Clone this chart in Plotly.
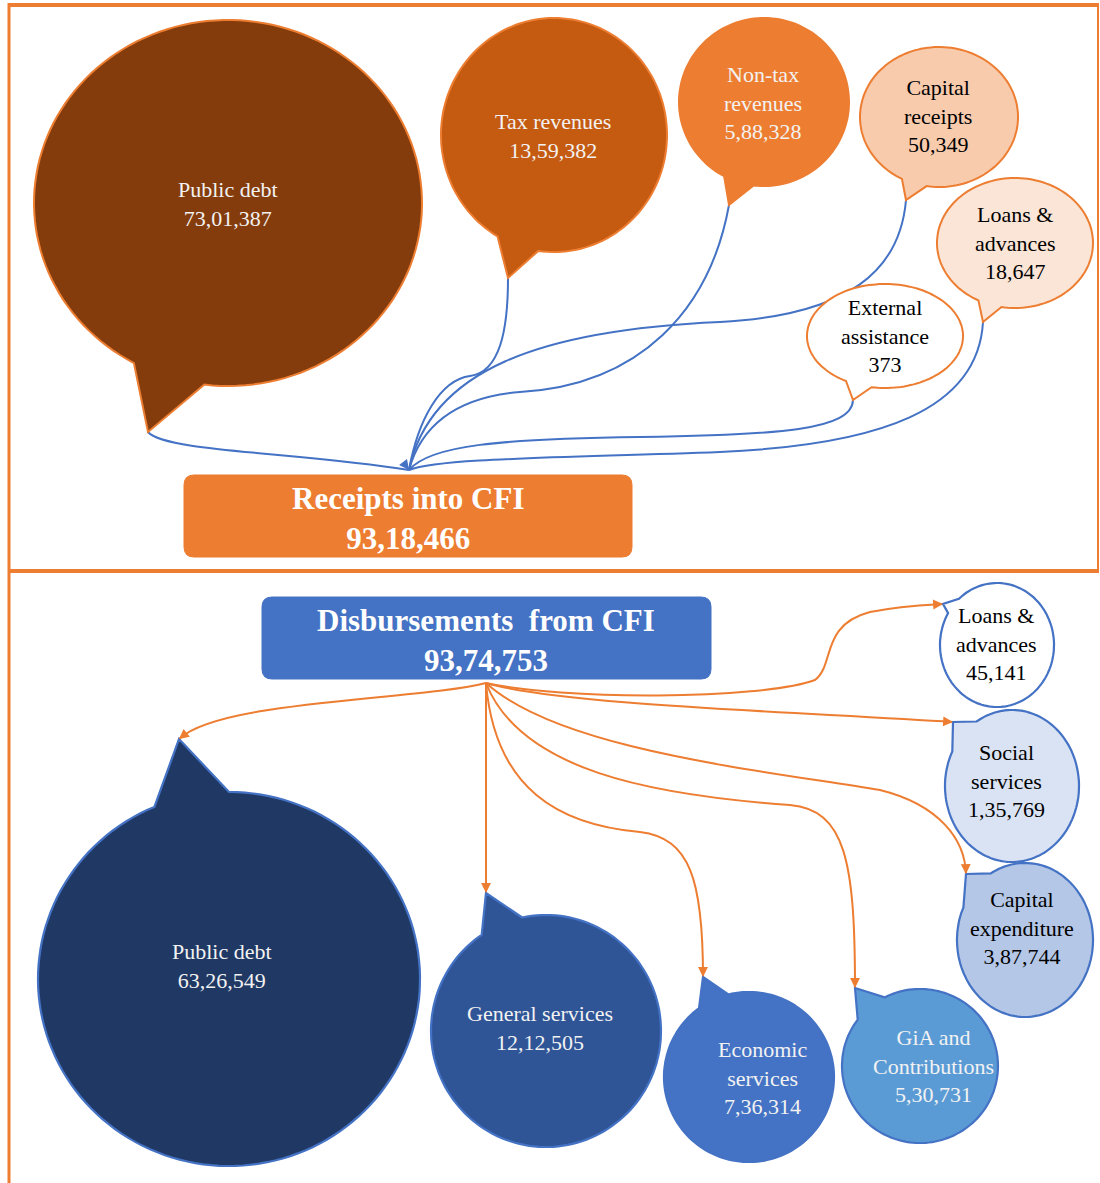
import math
import plotly.graph_objects as go

# ---------------- DATA ----------------
receipt_labels = ["Public debt", "Tax revenues", "Non-tax<br>revenues", "Capital<br>receipts",
                  "Loans &<br>advances", "External<br>assistance"]
receipt_values = [7301387, 1359382, 588328, 50349, 18647, 373]

disb_labels = ["Public debt", "General services", "Economic<br>services", "GiA and<br>Contributions",
               "Capital<br>expenditure", "Social<br>services", "Loans &<br>advances"]
disb_values = [6326549, 1212505, 736314, 530731, 387744, 135769, 45141]

receipt_title = "Receipts into CFI"
disb_title = "Disbursements\u00a0 from CFI"


def indian(n):
    s = str(n)
    if len(s) <= 3:
        return s
    last, rest = s[-3:], s[:-3]
    parts = []
    while len(rest) > 2:
        parts.insert(0, rest[-2:])
        rest = rest[:-2]
    if rest:
        parts.insert(0, rest)
    return ",".join(parts + [last])


# ---------------- LAYOUT / STYLE (not data) ----------------
ORANGE = "#ED7D31"
BLUE = "#4472C4"
FONT = "Liberation Serif"
TXT = 22
TITLE = 31

# cx, cy, rx, ry, gap_a1, gap_a2, tip, text_xy, fill, line, textcolor
receipt_geo = [
    (228, 203, 194, 183, 97, 119, (148, 432), (228, 204), "#843C0C", "#ED7D31", "#F2F2F2"),
    (554, 135, 113, 117, 98, 120, (508, 278), (553, 136), "#C55A11", "#ED7D31", "#F2F2F2"),
    (764, 102, 85, 84, 97, 118, (729, 205), (763, 103), "#ED7D31", "#ED7D31", "#F2F2F2"),
    (939, 117, 79, 70, 99, 118, (906, 200), (938, 116), "#F8CBAD", "#ED7D31", "#000000"),
    (1015, 243, 78, 65, 100, 118, (983, 322), (1015, 243), "#FBE5D6", "#ED7D31", "#000000"),
    (885, 336, 78, 52, 100, 120, (853, 400), (885, 336), "#FFFFFF", "#ED7D31", "#000000"),
]
receipt_curves = [
    "M148,432 C165,452 300,452 409,470",
    "M508,278 C508,330 500,372 470,376 C440,380 418,420 409,470",
    "M729,205 C710,310 640,385 520,392 C450,398 420,430 409,470",
    "M906,200 C900,270 850,315 720,322 C540,330 430,370 409,470",
    "M853,400 C852,430 780,435 640,437 C500,439 430,445 409,470",
    "M983,322 C978,410 880,445 720,452 C560,458 440,458 409,470",
]

disb_geo = [
    (229, 979, 191, 187, 247, 270, (179, 739), (222, 966), "#203864", "#4472C4", "#F2F2F2"),
    (546, 1031, 115, 116, 236, 258, (486, 893), (540, 1028), "#2F5597", "#4472C4", "#F2F2F2"),
    (749, 1077, 85, 85, 234, 256, (703, 977), (762, 1078), "#4472C4", "#4472C4", "#F2F2F2"),
    (920, 1066, 78, 77, 217, 243, (855, 988), (933, 1066), "#5B9BD5", "#4472C4", "#F2F2F2"),
    (1025, 940, 68, 77, 205, 240, (966, 874), (1022, 928), "#B4C7E7", "#4472C4", "#000000"),
    (1012, 786, 67, 76, 207, 238, (953, 722), (1006, 781), "#DAE3F3", "#4472C4", "#000000"),
    (997, 645, 57, 62, 211, 228, (943, 604), (996, 644), "#FFFFFF", "#4472C4", "#000000"),
]
disb_curves = [
    ("M486,683 C420,700 220,700 179,739", (205, 718)),
    ("M486,683 L486,893", (486, 860)),
    ("M486,683 C495,790 560,825 640,832 C690,838 703,880 703,977", (703, 900)),
    ("M486,683 C520,770 650,795 790,805 C845,810 855,860 855,988", (855, 860)),
    ("M486,683 C560,750 760,770 880,790 C940,805 965,840 966,874", (965, 840)),
    ("M486,683 C560,705 800,712 953,722", (800, 712)),
    ("M486,683 C560,700 760,700 815,680 C835,665 820,625 870,612 C900,606 925,605 943,604", (925, 605)),
]


def bubble_path(cx, cy, rx, ry, a1, a2, tip):
    start, end = a2, a1 + 360
    n = 140
    pts = []
    for i in range(n + 1):
        t = math.radians(start + (end - start) * i / n)
        pts.append((cx + rx * math.cos(t), cy + ry * math.sin(t)))
    p = "M" + " L".join(f"{x:.1f},{y:.1f}" for x, y in pts)
    p += f" L{tip[0]},{tip[1]} Z"
    return p


def rounded_rect(x0, y0, x1, y1, r):
    return (f"M{x0 + r},{y0} L{x1 - r},{y0} Q{x1},{y0} {x1},{y0 + r} L{x1},{y1 - r} "
            f"Q{x1},{y1} {x1 - r},{y1} L{x0 + r},{y1} Q{x0},{y1} {x0},{y1 - r} "
            f"L{x0},{y0 + r} Q{x0},{y0} {x0 + r},{y0} Z")


def arrow_at(end, ctrl, color, length=9):
    dx, dy = end[0] - ctrl[0], end[1] - ctrl[1]
    d = math.hypot(dx, dy) or 1
    ax, ay = end[0] - dx / d * length, end[1] - dy / d * length
    return dict(x=end[0], y=end[1], ax=ax, ay=ay, xref="x", yref="y", axref="x", ayref="y",
                text="", showarrow=True, arrowhead=2, arrowsize=1.1, arrowwidth=1.8,
                arrowcolor=color, standoff=0)


shapes = []
annotations = []

# frame
shapes += [
    dict(type="line", x0=8, x1=1099, y0=5, y1=5, line=dict(color=ORANGE, width=4), layer="above"),
    dict(type="line", x0=9, x1=9, y0=3, y1=1183, line=dict(color=ORANGE, width=3), layer="above"),
    dict(type="line", x0=1098, x1=1098, y0=5, y1=571, line=dict(color=ORANGE, width=2), layer="above"),
    dict(type="line", x0=8, x1=1099, y0=571, y1=571, line=dict(color=ORANGE, width=4), layer="above"),
]

# receipts curves
for c in receipt_curves:
    shapes.append(dict(type="path", path=c, xref="x", yref="y",
                       line=dict(color=BLUE, width=2), fillcolor="rgba(0,0,0,0)"))
annotations.append(arrow_at((409, 470), (400, 458), BLUE, length=8))

# receipts bubbles
for (cx, cy, rx, ry, a1, a2, tip, txy, fill, ln, tc), lab, val in zip(receipt_geo, receipt_labels, receipt_values):
    shapes.append(dict(type="path", path=bubble_path(cx, cy, rx, ry, a1, a2, tip), xref="x", yref="y",
                       fillcolor=fill, line=dict(color=ln, width=2)))
    annotations.append(dict(x=txy[0], y=txy[1], xref="x", yref="y", showarrow=False,
                            text=f"{lab}<br>{indian(val)}",
                            font=dict(family=FONT, size=TXT, color=tc)))

# receipts box
shapes.append(dict(type="path", path=rounded_rect(184, 475, 632, 557, 10), xref="x", yref="y",
                   fillcolor=ORANGE, line=dict(color=ORANGE, width=1)))
annotations.append(dict(x=408, y=518, xref="x", yref="y", showarrow=False,
                        text=f"<b>{receipt_title}</b><br><b>{indian(sum(receipt_values))}</b>",
                        font=dict(family=FONT, size=TITLE, color="#FFFFFF")))

# disbursement curves
for c, ctrl in disb_curves:
    shapes.append(dict(type="path", path=c, xref="x", yref="y",
                       line=dict(color=ORANGE, width=2), fillcolor="rgba(0,0,0,0)"))

# disbursement bubbles
for (cx, cy, rx, ry, a1, a2, tip, txy, fill, ln, tc), lab, val in zip(disb_geo, disb_labels, disb_values):
    shapes.append(dict(type="path", path=bubble_path(cx, cy, rx, ry, a1, a2, tip), xref="x", yref="y",
                       fillcolor=fill, line=dict(color=ln, width=2.2)))
    annotations.append(dict(x=txy[0], y=txy[1], xref="x", yref="y", showarrow=False,
                            text=f"{lab}<br>{indian(val)}",
                            font=dict(family=FONT, size=TXT, color=tc)))

for (c, ctrl), g in zip(disb_curves, disb_geo):
    annotations.append(arrow_at(g[6], ctrl, ORANGE))

# disbursement box
shapes.append(dict(type="path", path=rounded_rect(262, 597, 711, 679, 10), xref="x", yref="y",
                   fillcolor=BLUE, line=dict(color=BLUE, width=1)))
annotations.append(dict(x=486, y=640, xref="x", yref="y", showarrow=False,
                        text=f"<b>{disb_title}</b><br><b>{indian(sum(disb_values))}</b>",
                        font=dict(family=FONT, size=TITLE, color="#FFFFFF")))

fig = go.Figure()
fig.add_trace(go.Scatter(x=[0, 1100], y=[0, 1183], mode="markers",
                         marker=dict(opacity=0), hoverinfo="skip", showlegend=False))
fig.update_layout(
    width=1100, height=1183,
    margin=dict(l=0, r=0, t=0, b=0),
    paper_bgcolor="white", plot_bgcolor="white",
    xaxis=dict(range=[0, 1100], visible=False, fixedrange=True),
    yaxis=dict(range=[1183, 0], visible=False, fixedrange=True),
    shapes=shapes, annotations=annotations, showlegend=False,
)
fig.write_html("out.html")
